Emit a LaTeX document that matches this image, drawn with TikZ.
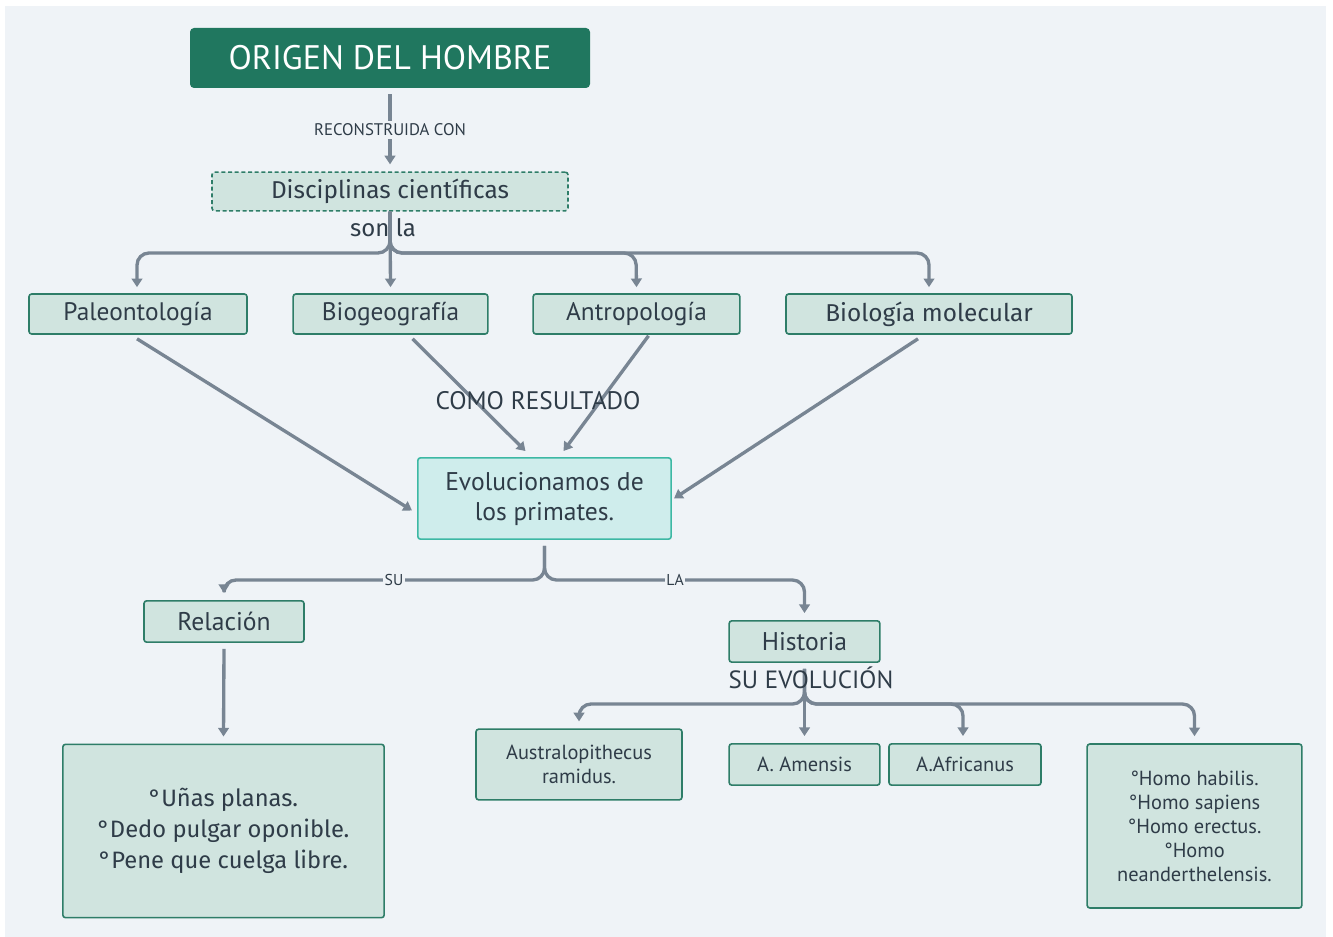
\documentclass[tikz,border=0pt]{standalone}
\usepackage{fontspec}
\setmainfont{Fira Sans}
\newfontfamily\dinf{PT Sans}
\usetikzlibrary{arrows.meta,calc}
\definecolor{bgc}{HTML}{EFF3F7}
\definecolor{titlec}{HTML}{20775F}
\definecolor{boxf}{HTML}{D0E4DF}
\definecolor{boxd}{HTML}{2E7D68}
\definecolor{evof}{HTML}{CFEDEC}
\definecolor{evod}{HTML}{3DB8A4}
\definecolor{edgec}{HTML}{788593}
\definecolor{txt}{HTML}{2F3C48}
\tikzset{
  box/.style={draw=boxd, fill=boxf, line width=1.2pt, rounded corners=2pt, text=txt, align=center, inner sep=0pt},
  edge/.style={draw=edgec, line width=2.5pt, -{Triangle[length=6.5pt,width=8pt]}},
  lbl/.style={text=txt, inner sep=1pt},
}
\begin{document}
\begin{tikzpicture}[x=0.75pt,y=-0.75pt]
\useasboundingbox (0,0) rectangle (1333,937);
\fill[white] (0,0) rectangle (1333,937);
\fill[bgc] (5,6) rectangle (1326,937);

% nodes
\node[fill=titlec, rounded corners=3pt, text=white, minimum width=300pt, minimum height=45pt, inner sep=0pt, font=\dinf\fontsize{25.5}{30}\selectfont] (title) at (390,58) {ORIGEN DEL HOMBRE};
\node[box, draw=boxd, dashed, dash pattern=on 3pt off 2pt, minimum width=267pt, minimum height=29pt, font=\fontsize{18.3}{22}\selectfont] (disc) at (390,191.5) {Disciplinas científicas};
\node[box, minimum width=163.5pt, minimum height=30pt, font=\dinf\fontsize{19}{22}\selectfont] (pal) at (138,314) {Paleontología};
\node[box, minimum width=146pt, minimum height=30pt, font=\dinf\fontsize{19}{22}\selectfont] (bio) at (390.5,314) {Biogeografía};
\node[box, minimum width=155pt, minimum height=30pt, font=\dinf\fontsize{19}{22}\selectfont] (ant) at (636.5,314) {Antropología};
\node[box, minimum width=214.5pt, minimum height=30pt, font=\fontsize{18.3}{22}\selectfont] (mol) at (929,314) {Biología molecular};
\node[box, draw=evod, fill=evof, minimum width=190pt, minimum height=61pt, font=\dinf\fontsize{19.2}{22.5}\selectfont] (evo) at (544.5,498.5) {Evolucionamos de\\los primates.};
\node[box, minimum width=120pt, minimum height=31pt, font=\dinf\fontsize{19.2}{22}\selectfont] (rel) at (224,621.5) {Relación};
\node[box, minimum width=113pt, minimum height=31pt, font=\dinf\fontsize{19.2}{22}\selectfont] (his) at (804.5,641.5) {Historia};
\node[box, minimum width=154.5pt, minimum height=53pt, font=\dinf\fontsize{15.3}{18}\selectfont] (aus) at (579,764.5) {Australopithecus\\ramidus.};
\node[box, minimum width=113pt, minimum height=31pt, font=\dinf\fontsize{15.3}{18}\selectfont] (ame) at (804.5,764.5) {A. Amensis};
\node[box, minimum width=114pt, minimum height=31pt, font=\dinf\fontsize{15.3}{18}\selectfont] (afr) at (965,764.5) {A.Africanus};
\node[box, minimum width=161pt, minimum height=123pt, font=\dinf\fontsize{15.3}{18}\selectfont] (homo) at (1194.5,826) {°Homo habilis.\\°Homo sapiens\\°Homo erectus.\\°Homo\\neanderthelensis.};
\node[box, minimum width=241pt, minimum height=130pt, font=\fontsize{17.8}{23}\selectfont] (unas) at (223.5,831) {°Uñas planas.\\°Dedo pulgar oponible.\\°Pene que cuelga libre.};

% connectors
\draw[edge] ($(title.south)+(0,6)$) -- ($(disc.north)+(0,-7)$);
\node[lbl, fill=bgc, font=\dinf\fontsize{12.6}{14}\selectfont, inner sep=2pt] (lrec) at (390,130) {RECONSTRUIDA CON};

\draw[edge] (disc.south) -- ($(bio.north)+(0,-6)$);
\draw[edge, rounded corners=9pt] (disc.south) |- (137,253) -- ($(pal.north)+(-1,-6)$);
\draw[edge, rounded corners=9pt] (disc.south) |- (636,253) -- ($(ant.north)+(0,-6)$);
\draw[edge, rounded corners=9pt] (disc.south) |- (929,253) -- ($(mol.north)+(0,-6)$);
\node[lbl, font=\fontsize{18}{20}\selectfont] (sonla) at (383,228) {son la};

\draw[edge] ($(pal.south)+(-1,4)$) -- ($(evo.west)+(-5,12)$);
\draw[edge] ($(bio.south)+(22,4)$) -- ($(evo.north)+(-19,-6)$);
\draw[edge] ($(ant.south)+(12,1)$) -- ($(evo.north)+(19,-6)$);
\draw[edge] ($(mol.south)+(-11,4)$) -- ($(evo.east)+(2,0)$);
\node[lbl, font=\dinf\fontsize{19}{22}\selectfont] (como) at (538,401) {COMO RESULTADO};

\draw[edge, rounded corners=9pt] ($(evo.south)+(0,6)$) |- (224,580) -- ($(rel.north)+(0,-7)$);
\draw[edge, rounded corners=9pt] ($(evo.south)+(0,6)$) |- (804.5,580) -- ($(his.north)+(0,-7)$);
\node[lbl, fill=bgc, font=\dinf\fontsize{11.8}{13}\selectfont] (lsu) at (394,580) {SU};
\node[lbl, fill=bgc, font=\dinf\fontsize{11.8}{13}\selectfont] (lla) at (675,580) {LA};

\draw[edge] ($(his.south)+(0,6)$) -- ($(ame.north)+(0,-7)$);
\draw[edge, rounded corners=9pt] ($(his.south)+(0,6)$) |- (579,704) -- ($(aus.north)+(0,-7)$);
\draw[edge, rounded corners=9pt] ($(his.south)+(0,6)$) |- (963,704) -- ($(afr.north)+(-2,-7)$);
\draw[edge, rounded corners=9pt] ($(his.south)+(0,6)$) |- (1194.5,704) -- ($(homo.north)+(0,-7)$);
\node[lbl, font=\dinf\fontsize{18.7}{22}\selectfont] (suevo) at (811,678) {SU EVOLUCIÓN};

\draw[edge] ($(rel.south)+(0,6)$) -- ($(unas.north)+(0,-7)$);
\end{tikzpicture}
\end{document}
